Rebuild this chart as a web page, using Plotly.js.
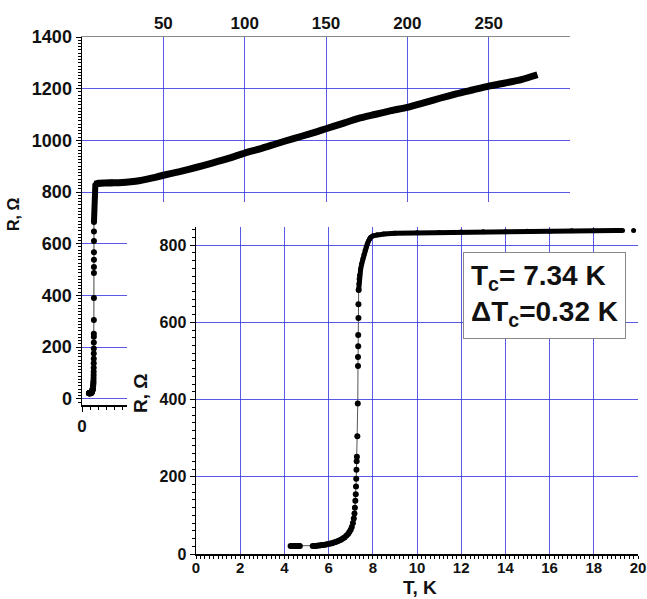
<!DOCTYPE html>
<html>
<head>
<meta charset="utf-8">
<script src="https://cdn.plot.ly/plotly-3.0.1.min.js"></script>
<style>html,body{margin:0;padding:0;background:#fff;}#chart{width:647px;height:599px;}</style>
</head>
<body>
<div id="chart"></div>
<script>
// Superconducting transition region (T in K, R in Ohm)
const transT = [4.28, 4.34, 4.40, 4.46, 4.52, 4.58, 4.64, 4.70,
  5.28, 5.36, 5.44, 5.52, 5.60, 5.68, 5.76, 5.84, 5.92, 6.00,
  6.08, 6.16, 6.24, 6.32, 6.40, 6.48, 6.56, 6.64, 6.72, 6.80, 6.88, 6.94,
  7.00, 7.05, 7.10, 7.14, 7.17, 7.19, 7.21, 7.23, 7.24, 7.25, 7.26, 7.27, 7.28,
  7.30, 7.32, 7.33, 7.33, 7.34, 7.34, 7.35, 7.35, 7.36];
const transR = [21, 21, 21, 21, 21, 21, 21, 21,
  21, 21, 21, 22, 22, 23, 23, 24, 25, 26,
  27, 28, 30, 31, 33, 35, 37, 40, 43, 47, 52, 57,
  63, 70, 80, 92, 105, 120, 138, 155, 175, 195, 218, 240, 252,
  305, 390, 487, 510, 538, 567, 611, 647, 684];
// Onset of normal state and low-T plateau (inset)
const plateauT = [7.36, 7.37, 7.38, 7.40, 7.45, 7.50, 7.55, 7.60, 7.65, 7.70, 7.75, 7.80, 7.85, 7.90,
  8.0, 8.2, 8.5, 9, 10, 11, 12, 13, 14, 15, 16, 17, 18, 19, 19.3, null, 19.8];
const plateauR = [684, 700, 712, 722, 738, 752, 765, 776, 786, 795, 803, 810, 816, 820,
  824, 827, 829, 831, 832, 833, 834, 835, 835, 836, 836, 837, 837, 838, 838, null, 838];
// Normal state up to room temperature (main plot)
const normT = [8, 10, 15, 20, 25, 30, 35, 40, 45, 50, 60, 70, 80, 90, 100, 110, 120, 130, 140,
  150, 160, 170, 180, 190, 200, 210, 220, 230, 240, 250, 260, 270, 280];
const normR = [830, 834, 835, 836, 837, 840, 844, 850, 857, 865, 879, 895, 912, 930, 951, 968, 988,
  1007, 1025, 1045, 1065, 1085, 1100, 1115, 1128, 1145, 1163, 1180, 1195, 1210, 1222, 1235, 1254];

const topTicks = [50, 100, 150, 200, 250];
const mainYTicks = [0, 200, 400, 600, 800, 1000, 1200, 1400];
const insetYTicks = [0, 200, 400, 600, 800];
const insetXTicks = [0, 2, 4, 6, 8, 10, 12, 14, 16, 18, 20];

const W = 647, H = 599;
const px = v => v / W;
const py = v => 1 - v / H;
const FONT = 'Liberation Sans, Arial, sans-serif';
const GRID = 'rgba(60,60,225,0.85)';
const tickFont = s => ({family: FONT, size: s, color: '#111', weight: 'bold'});

const traces = [
  {x: transT, y: transR, xaxis: 'x', yaxis: 'y', mode: 'lines+markers',
   marker: {color: '#000', size: 6}, line: {color: '#444', width: 1}, hoverinfo: 'skip'},
  {x: plateauT, y: plateauR, xaxis: 'x', yaxis: 'y', mode: 'lines',
   line: {color: '#000', width: 6}, hoverinfo: 'skip'},
  {x: normT, y: normR, xaxis: 'x4', yaxis: 'y', mode: 'lines',
   line: {color: '#000', width: 7, shape: 'spline', smoothing: 0.6}, hoverinfo: 'skip'},
  {x: transT, y: transR, xaxis: 'x3', yaxis: 'y3', mode: 'lines+markers',
   marker: {color: '#000', size: 6}, line: {color: '#555', width: 1}, hoverinfo: 'skip'},
  {x: plateauT, y: plateauR, xaxis: 'x3', yaxis: 'y3', mode: 'lines+markers',
   marker: {color: '#000', size: 5}, line: {color: '#000', width: 5}, hoverinfo: 'skip'}
];

const layout = {
  width: W, height: H,
  margin: {l: 0, r: 0, t: 0, b: 0},
  paper_bgcolor: '#fff', plot_bgcolor: '#fff',
  showlegend: false,
  font: {family: FONT, color: '#111'},
  xaxis: {domain: [px(82), px(570)], range: [0, 300], anchor: 'y', side: 'top',
    tickvals: topTicks, showgrid: true, gridcolor: GRID, gridwidth: 1,
    zeroline: false, showline: true, linecolor: '#888', linewidth: 1,
    ticks: '', tickfont: tickFont(17), fixedrange: true},
  xaxis4: {overlaying: 'x', anchor: 'y', side: 'bottom', range: [0, 300],
    tickvals: [0], showgrid: false, zeroline: false, showline: true, linecolor: '#000', linewidth: 1.5,
    ticks: 'outside', ticklen: 5, tickcolor: '#000', tickfont: tickFont(17),
    minor: {dtick: 5, tick0: 0, ticks: 'outside', ticklen: 3, tickcolor: '#000', showgrid: false},
    fixedrange: true},
  yaxis: {domain: [py(405), py(37)], range: [-24, 1400], anchor: 'x',
    tickvals: mainYTicks, showgrid: true, gridcolor: GRID, gridwidth: 1,
    zeroline: false, showline: true, linecolor: '#000', linewidth: 1.5,
    ticks: 'outside', ticklen: 5, tickcolor: '#000', tickfont: tickFont(18),
    minor: {dtick: 12.5, tick0: 0, ticks: 'outside', ticklen: 3, tickcolor: '#000', showgrid: false},
    fixedrange: true},
  xaxis2: {domain: [px(127), 1], range: [0, 1], anchor: 'y2', visible: false, fixedrange: true},
  yaxis2: {domain: [0, py(202)], range: [0, 1], anchor: 'x2', visible: false, fixedrange: true},
  xaxis3: {domain: [px(196), px(638)], range: [0, 20], anchor: 'y3',
    tickvals: insetXTicks, showgrid: true, gridcolor: GRID, gridwidth: 1,
    zeroline: false, showline: true, linecolor: '#000', linewidth: 1.5,
    ticks: 'outside', ticklen: 3, tickcolor: '#000', tickfont: tickFont(15), ticklabelstandoff: -4,
    minor: {dtick: 0.2, tick0: 0, ticks: 'outside', ticklen: 3, tickcolor: '#000', showgrid: false},
    fixedrange: true},
  yaxis3: {domain: [py(554), py(227)], range: [0, 847], anchor: 'x3',
    tickvals: insetYTicks, showgrid: true, gridcolor: GRID, gridwidth: 1,
    zeroline: false, showline: true, linecolor: '#000', linewidth: 1.5,
    ticks: 'outside', ticklen: 5, tickcolor: '#000', tickfont: tickFont(16),
    minor: {dtick: 20, tick0: 0, ticks: 'outside', ticklen: 3, tickcolor: '#000', showgrid: false},
    fixedrange: true},
  shapes: [
    {type: 'rect', xref: 'x2', yref: 'y2', x0: 0, x1: 1, y0: 0, y1: 1, layer: 'below',
     fillcolor: '#fff', line: {width: 0}}
  ],
  annotations: [
    {xref: 'paper', yref: 'paper', x: px(13), y: py(215), text: 'R, Ω', textangle: -90,
     showarrow: false, xanchor: 'center', yanchor: 'middle', font: {family: FONT, size: 16, color: '#111', weight: 'bold'}},
    {xref: 'paper', yref: 'paper', x: px(140), y: py(393), text: 'R, Ω', textangle: -90,
     showarrow: false, xanchor: 'center', yanchor: 'middle', font: {family: FONT, size: 19, color: '#111', weight: 'bold'}},
    {xref: 'paper', yref: 'paper', x: px(420), y: py(587), text: 'T, K',
     showarrow: false, xanchor: 'center', yanchor: 'middle', font: {family: FONT, size: 19, color: '#111', weight: 'bold'}},
    {xref: 'paper', yref: 'paper', x: px(544), y: py(295), text: 'T<sub>c</sub>= 7.34 K<br>ΔT<sub>c</sub>=0.32 K',
     showarrow: false, xanchor: 'center', yanchor: 'middle', align: 'left',
     bgcolor: '#fff', bordercolor: '#888', borderwidth: 1, borderpad: 7,
     font: {family: FONT, size: 28, color: '#111', weight: 'bold'}}
  ]
};

Plotly.newPlot('chart', traces, layout, {staticPlot: true, displayModeBar: false});
</script>
</body>
</html>
